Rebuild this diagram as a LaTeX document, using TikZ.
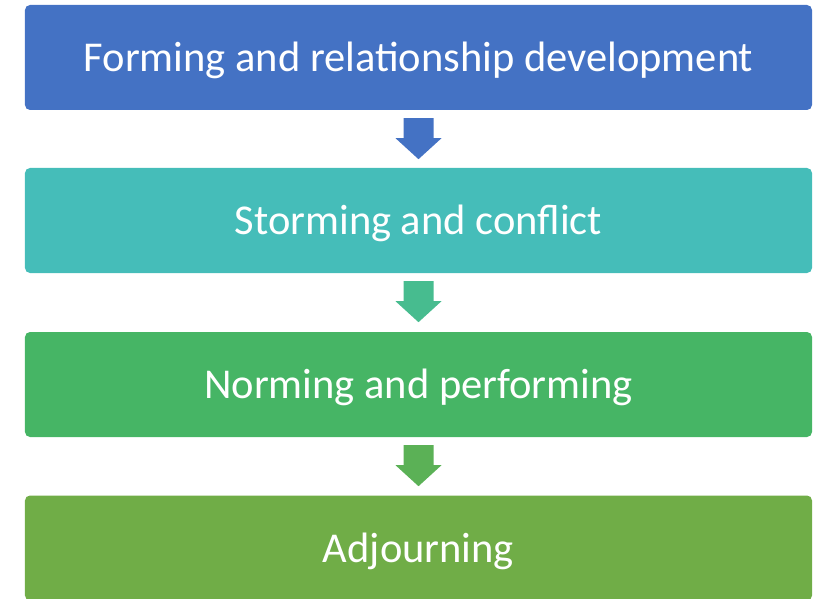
\documentclass[tikz,border=0pt]{standalone}
\usepackage{fontspec}
\setmainfont{Carlito}
\definecolor{cA}{HTML}{4472C4}
\definecolor{cB}{HTML}{45BDB9}
\definecolor{cC}{HTML}{46B565}
\definecolor{cD}{HTML}{70AD47}
\definecolor{aB}{HTML}{47BC8F}
\definecolor{aC}{HTML}{5BB156}
\begin{document}
\begin{tikzpicture}[x=1bp,y=-1bp,
  stage/.style={rounded corners=5bp, minimum width=787bp, minimum height=105bp,
    inner sep=0pt},
  label/.style={text=white, font=\fontsize{42.5bp}{48bp}\selectfont, inner sep=0pt}]
\useasboundingbox (0,0) rectangle (820,599);
\node[stage, fill=cA] (s1) at (418.5,57.5) {};
\node[stage, fill=cB] (s2) at (418.5,220.5) {};
\node[stage, fill=cC] (s3) at (418.5,384.5) {};
\node[stage, fill=cD] (s4) at (418.5,548) {};
% stage captions, set slightly below the box centres
\node[label] (l1) at ([yshift=-3bp]s1.center) {Forming and relationship development};
\node[label] (l2) at ([yshift=-3bp]s2.center) {Storming and conflict};
\node[label] (l3) at ([yshift=-3bp]s3.center) {Norming and performing};
\node[label] (l4) at ([yshift=-3bp]s4.center) {Adjourning};
% block arrows between consecutive stages
\foreach \a/\c in {s1/cA, s2/aB, s3/aC}{
  \path (\a.south) ++(0,8) coordinate (t);
  \fill[\c] (t) ++(-15,0) -- ++(30,0) -- ++(0,20) -- ++(8,0) -- ++(-23,21) -- ++(-23,-21) -- ++(8,0) -- cycle;
}
\end{tikzpicture}
\end{document}
